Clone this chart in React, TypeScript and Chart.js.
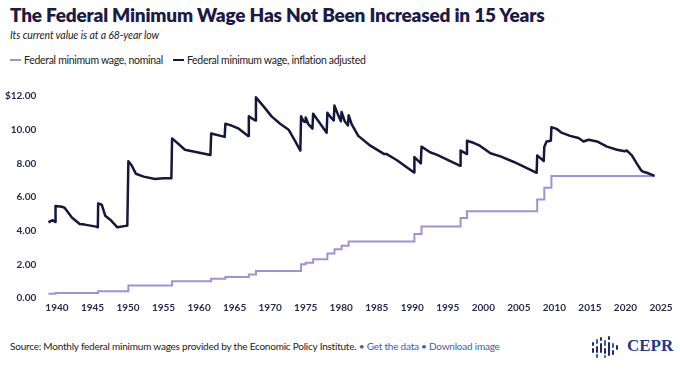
import React, { useEffect, useRef } from 'react';
import { Chart, registerables } from 'chart.js';
Chart.register(...registerables);

const nominalYears = [1938.8, 1939.8, 1945.8, 1950.05, 1956.2, 1961.7, 1963.7, 1967.0, 1968.0, 1974.35, 1975.0, 1976.05, 1978.05, 1979.05, 1980.05, 1981.05, 1990.3, 1991.3, 1996.8, 1997.7, 2007.58, 2008.58, 2009.58, 2024.1];
const nominalValues = [0.25, 0.3, 0.4, 0.75, 1.0, 1.15, 1.25, 1.4, 1.6, 2.0, 2.1, 2.3, 2.65, 2.9, 3.1, 3.35, 3.8, 4.25, 4.75, 5.15, 5.85, 6.55, 7.25, 7.25];

const adjustedYears = [
  1938.8, 1939.4, 1939.75, 1939.8, 1940.7, 1941.1, 1942.1, 1943.2, 1943.9, 1945.5, 1945.75, 1945.8,
  1946.3, 1946.8, 1947.5, 1948.5, 1949.9, 1950.05, 1950.5, 1950.9, 1951.1, 1952.2, 1953.8, 1955.0,
  1956.1, 1956.2, 1957.1, 1958.0, 1959.7, 1961.6, 1961.7, 1963.6, 1963.7, 1964.4, 1965.5, 1966.9,
  1967.0, 1967.9, 1968.0, 1969.1, 1970.2, 1971.4, 1972.6, 1973.5, 1974.25, 1974.35, 1974.7, 1974.95,
  1975.0, 1975.4, 1975.95, 1976.05, 1976.8, 1977.95, 1978.05, 1978.5, 1978.95, 1979.05, 1979.5, 1979.95,
  1980.05, 1980.5, 1980.95, 1981.05, 1981.5, 1982.4, 1984.1, 1986.0, 1986.4, 1987.8, 1990.25, 1990.3,
  1991.2, 1991.3, 1992.5, 1993.5, 1996.75, 1996.8, 1997.65, 1997.7, 1998.6, 1999.5, 2001.0, 2002.4,
  2004.3, 2006.2, 2007.5, 2007.58, 2008.5, 2008.58, 2008.9, 2009.5, 2009.58, 2010.3, 2011.0, 2012.2,
  2013.4, 2014.1, 2014.8, 2016.0, 2017.4, 2018.8, 2019.9, 2020.2, 2020.9, 2021.6, 2022.2, 2022.5,
  2023.0, 2024.1
];
const adjustedValues = [
  4.5, 4.62, 4.52, 5.47, 5.42, 5.35, 4.78, 4.4, 4.36, 4.24, 4.2, 5.62,
  5.54, 4.88, 4.65, 4.2, 4.3, 8.12, 7.89, 7.55, 7.38, 7.21, 7.07, 7.12,
  7.12, 9.48, 9.15, 8.81, 8.66, 8.49, 9.77, 9.57, 10.35, 10.27, 10.08, 9.63,
  10.79, 10.54, 11.92, 11.37, 10.79, 10.35, 10.0, 9.34, 8.76, 10.79, 10.5, 10.45,
  10.72, 10.31, 10.06, 10.95, 10.5, 9.82, 11.0, 10.75, 10.55, 11.43, 10.95, 10.5,
  11.05, 10.5, 10.25, 10.85, 10.3, 9.63, 9.05, 8.56, 8.55, 8.2, 7.45, 8.37,
  8.0, 8.99, 8.66, 8.5, 7.85, 8.76, 8.56, 9.34, 9.22, 9.05, 8.6, 8.41,
  8.08, 7.7, 7.44, 8.47, 8.14, 8.99, 9.3, 9.34, 10.15, 10.05, 9.82, 9.63,
  9.5, 9.3, 9.4, 9.3, 8.99, 8.81, 8.72, 8.76, 8.47, 7.98, 7.59, 7.5,
  7.44, 7.25
];

const xTickYears = [1940, 1945, 1950, 1955, 1960, 1965, 1970, 1975, 1980, 1985, 1990, 1995, 2000, 2005, 2010, 2015, 2020, 2025];
const yTickValues = [0, 2, 4, 6, 8, 10, 12];

const NAVY = '#15173f';
const LAVENDER = '#9c95d3';
const FONT = 'Lato, "Noto Sans", sans-serif';
const TEXT = '#2a2a50';

export default function App() {
  const ref = useRef<HTMLCanvasElement>(null);
  useEffect(() => {
    const chart = new Chart(ref.current as HTMLCanvasElement, {
      type: 'line',
      data: {
        datasets: [
          {
            label: 'Federal minimum wage, inflation adjusted',
            data: adjustedYears.map((x, i) => ({ x, y: adjustedValues[i] })),
            borderColor: NAVY,
            borderWidth: 2.5,
            pointRadius: 0,
            tension: 0,
            borderJoinStyle: 'round',
          },
          {
            label: 'Federal minimum wage, nominal',
            data: nominalYears.map((x, i) => ({ x, y: nominalValues[i] })),
            borderColor: LAVENDER,
            borderWidth: 2,
            pointRadius: 0,
            stepped: 'before',
          },
        ],
      },
      options: {
        animation: false,
        responsive: false,
        maintainAspectRatio: false,
        layout: { padding: { left: 0, right: 19, top: 11, bottom: 0 } },
        plugins: { legend: { display: false }, tooltip: { enabled: false } },
        scales: {
          x: {
            type: 'linear',
            min: 1938.5,
            max: 2025,
            grid: { display: false, drawTicks: false },
            border: { display: false },
            afterBuildTicks: (s: any) => {
              s.ticks = xTickYears.map((v) => ({ value: v }));
            },
            afterFit: (s: any) => {
              s.height = 22;
            },
            ticks: {
              autoSkip: false,
              maxRotation: 0,
              padding: 4,
              color: TEXT,
              font: { family: FONT, size: 10, weight: '700' },
              callback: (v: any) => String(v),
            },
          },
          y: {
            min: 0,
            max: 12,
            grid: { display: false, drawTicks: false },
            border: { display: false },
            afterBuildTicks: (s: any) => {
              s.ticks = yTickValues.map((v) => ({ value: v }));
            },
            afterFit: (s: any) => {
              s.width = 46.3;
            },
            ticks: {
              padding: 10,
              color: TEXT,
              font: { family: FONT, size: 10, weight: '700' },
              callback: (v: any) => (Number(v) === 12 ? '$12.00' : Number(v).toFixed(2)),
            },
          },
        },
      },
    } as any);
    return () => chart.destroy();
  }, []);

  const legendItem = (color: string, text: string) => (
    <span style={{ display: 'inline-flex', alignItems: 'center', marginRight: 10 }}>
      <span style={{ display: 'inline-block', width: 11, height: 2, background: color, marginRight: 3 }} />
      <span>{text}</span>
    </span>
  );

  const iconBars: [number, number, number, string][] = [
    [0, 6, 4, '#1d2a6e'], [0, 12, 5, '#1d2a6e'],
    [4, 3, 5, '#3a56b0'], [4, 10, 7, '#1d2a6e'], [4, 18, 4, '#3a56b0'],
    [8, 1, 4, '#1d2a6e'], [8, 7, 10, '#1d2a6e'],
    [12, 4, 6, '#3a56b0'], [12, 12, 6, '#1d2a6e'], [12, 19, 3, '#3a56b0'],
    [16, 0, 4, '#1d2a6e'], [16, 6, 14, '#1d2a6e'],
    [20, 7, 5, '#3a56b0'], [20, 14, 5, '#1d2a6e'],
    [24, 9, 5, '#1d2a6e'],
  ];

  return (
    <div style={{ position: 'absolute', left: 0, top: 0, width: 680, height: 372, background: '#fff', overflow: 'hidden', fontFamily: FONT }}>
      <div style={{ position: 'absolute', left: 10, top: 3, fontSize: 19, fontWeight: 800, color: '#1b1b47', whiteSpace: 'nowrap', letterSpacing: -0.2 }}>
        The Federal Minimum Wage Has Not Been Increased in 15 Years
      </div>
      <div style={{ position: 'absolute', left: 10, top: 29, fontSize: 10.5, fontStyle: 'italic', color: '#222', whiteSpace: 'nowrap', letterSpacing: -0.1 }}>
        Its current value is at a 68-year low
      </div>
      <div style={{ position: 'absolute', left: 10, top: 54, fontSize: 10.5, color: '#222', whiteSpace: 'nowrap', display: 'flex', letterSpacing: -0.3 }}>
        {legendItem(LAVENDER, 'Federal minimum wage, nominal')}
        {legendItem(NAVY, 'Federal minimum wage, inflation adjusted')}
      </div>
      <canvas ref={ref} width={680} height={240} style={{ position: 'absolute', left: 0, top: 80, width: 680, height: 240 }} />
      <div style={{ position: 'absolute', left: 10, top: 340, fontSize: 10, color: '#222', whiteSpace: 'nowrap', letterSpacing: -0.22 }}>
        Source: Monthly federal minimum wages provided by the Economic Policy Institute.{' '}
        <span style={{ color: '#3d5cb8' }}>• Get the data • Download image</span>
      </div>
      <div style={{ position: 'absolute', left: 592, top: 336, width: 28, height: 24 }}>
        {iconBars.map(([x, y, h, c], i) => (
          <div key={i} style={{ position: 'absolute', left: x, top: y, width: 2.4, height: h, background: c, borderRadius: 1 }} />
        ))}
      </div>
      <div style={{ position: 'absolute', left: 627, top: 336, fontFamily: '"Liberation Serif", "DejaVu Serif", serif', fontWeight: 700, fontSize: 17, color: '#1f3a8f' }}>
        CEPR
      </div>
    </div>
  );
}
